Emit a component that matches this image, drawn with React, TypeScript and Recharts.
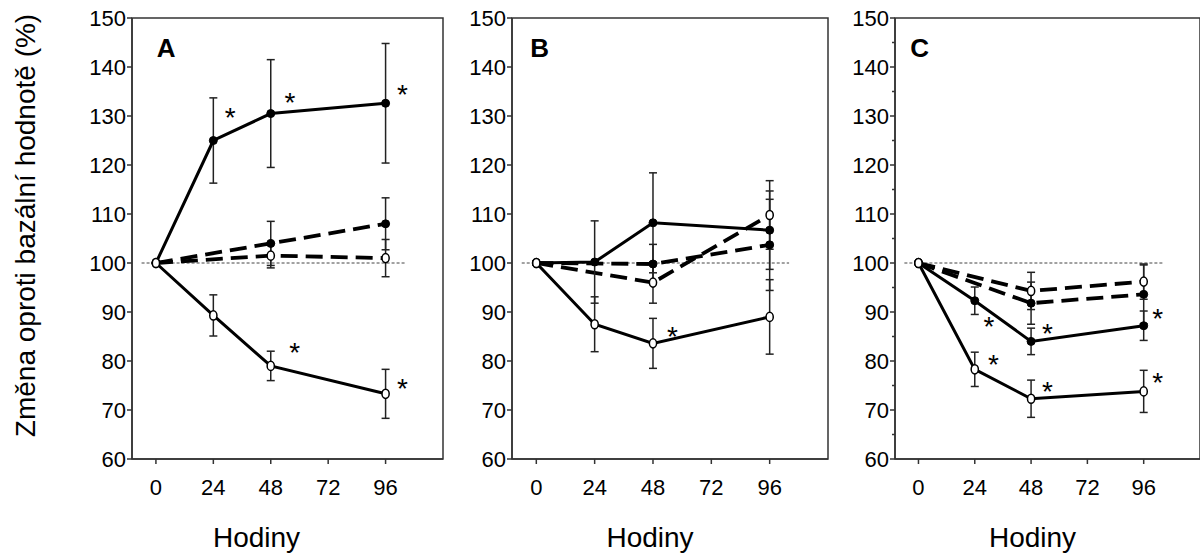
import {
  ComposedChart,
  Line,
  Scatter,
  XAxis,
  YAxis,
  ErrorBar,
  Label,
  ReferenceArea,
  ReferenceDot,
  ReferenceLine,
} from 'recharts';

type Pt = { h: number; v: number; e: number };
type Star = { h: number; v: number };

const hours = [0, 24, 48, 72, 96];
const yMajor = [60, 70, 80, 90, 100, 110, 120, 130, 140, 150];
const yWithMinor = [60, 65, 70, 75, 80, 85, 90, 95, 100, 105, 110, 115, 120, 125, 130, 135, 140, 145, 150];

const Y_TITLE = 'Změna oproti bazální hodnotě (%)';
const X_TITLE = 'Hodiny';

// A
const aFilledSolid: Pt[] = [
  { h: 0, v: 100, e: 0 },
  { h: 24, v: 125, e: 8.7 },
  { h: 48, v: 130.5, e: 11 },
  { h: 96, v: 132.6, e: 12.2 },
];
const aOpenSolid: Pt[] = [
  { h: 0, v: 100, e: 0 },
  { h: 24, v: 89.3, e: 4.2 },
  { h: 48, v: 79, e: 3 },
  { h: 96, v: 73.3, e: 5 },
];
const aFilledDash: Pt[] = [
  { h: 0, v: 100, e: 0 },
  { h: 48, v: 104, e: 4.5 },
  { h: 96, v: 108, e: 5.3 },
];
const aOpenDash: Pt[] = [
  { h: 0, v: 100, e: 0 },
  { h: 48, v: 101.5, e: 2.5 },
  { h: 96, v: 101, e: 3.8 },
];
const aStars: Star[] = [
  { h: 31, v: 131 },
  { h: 56, v: 134 },
  { h: 103, v: 135.7 },
  { h: 58, v: 83 },
  { h: 103, v: 75.7 },
];

// B
const bFilledSolid: Pt[] = [
  { h: 0, v: 100, e: 0 },
  { h: 24, v: 100.2, e: 8.4 },
  { h: 48, v: 108.2, e: 10.2 },
  { h: 96, v: 106.7, e: 8 },
];
const bOpenSolid: Pt[] = [
  { h: 0, v: 100, e: 0 },
  { h: 24, v: 87.5, e: 5.6 },
  { h: 48, v: 83.6, e: 5.1 },
  { h: 96, v: 89, e: 7.6 },
];
const bFilledDash: Pt[] = [
  { h: 0, v: 100, e: 0 },
  { h: 48, v: 99.8, e: 4 },
  { h: 96, v: 103.7, e: 9.3 },
];
const bOpenDash: Pt[] = [
  { h: 0, v: 100, e: 0 },
  { h: 48, v: 96, e: 4.2 },
  { h: 96, v: 109.8, e: 7 },
];
const bStars: Star[] = [{ h: 56, v: 86.3 }];

// C
const cFilledSolid: Pt[] = [
  { h: 0, v: 100, e: 0 },
  { h: 24, v: 92.3, e: 2.8 },
  { h: 48, v: 84, e: 2.7 },
  { h: 96, v: 87.2, e: 3 },
];
const cOpenSolid: Pt[] = [
  { h: 0, v: 100, e: 0 },
  { h: 24, v: 78.3, e: 3.5 },
  { h: 48, v: 72.3, e: 3.8 },
  { h: 96, v: 73.8, e: 4.3 },
];
const cFilledDash: Pt[] = [
  { h: 0, v: 100, e: 0 },
  { h: 48, v: 91.8, e: 4.3 },
  { h: 96, v: 93.6, e: 6 },
];
const cOpenDash: Pt[] = [
  { h: 0, v: 100, e: 0 },
  { h: 48, v: 94.3, e: 3.8 },
  { h: 96, v: 96.2, e: 3.6 },
];
const cStars: Star[] = [
  { h: 30, v: 88.3 },
  { h: 55, v: 87 },
  { h: 102, v: 90 },
  { h: 32, v: 80.6 },
  { h: 55, v: 75 },
  { h: 102, v: 77 },
];

type Series = { data: Pt[]; dashed: boolean; open: boolean };
type PanelCfg = {
  letter: string;
  letterH: number;
  left: number;
  marginLeft: number;
  plotWidth: number;
  titleDx: number;
  minor: boolean;
  yTitle: boolean;
  series: Series[];
  stars: Star[];
};

const panels: PanelCfg[] = [
  {
    letter: 'A', letterH: 4.3, left: 0, marginLeft: 72, plotWidth: 311, titleDx: -31, minor: false, yTitle: true,
    series: [
      { data: aFilledDash, dashed: true, open: false },
      { data: aOpenDash, dashed: true, open: true },
      { data: aFilledSolid, dashed: false, open: false },
      { data: aOpenSolid, dashed: false, open: true },
    ],
    stars: aStars,
  },
  {
    letter: 'B', letterH: 1.4, left: 450, marginLeft: 2, plotWidth: 316, titleDx: -20, minor: false, yTitle: false,
    series: [
      { data: bFilledDash, dashed: true, open: false },
      { data: bOpenDash, dashed: true, open: true },
      { data: bFilledSolid, dashed: false, open: false },
      { data: bOpenSolid, dashed: false, open: true },
    ],
    stars: bStars,
  },
  {
    letter: 'C', letterH: 0.5, left: 833, marginLeft: 2, plotWidth: 305, titleDx: -15, minor: true, yTitle: false,
    series: [
      { data: cFilledDash, dashed: true, open: false },
      { data: cOpenDash, dashed: true, open: true },
      { data: cFilledSolid, dashed: false, open: false },
      { data: cOpenSolid, dashed: false, open: true },
    ],
    stars: cStars,
  },
];

const AXIS = '#333';

const YTick = (props: any) => {
  const { x, y, payload } = props;
  const major = payload.value % 10 === 0;
  return (
    <g>
      <line x1={x - (major ? 5 : 3)} x2={x} y1={y} y2={y} stroke={AXIS} strokeWidth={1.5} />
      {major && (
        <text x={x - 6} y={y} dy="0.36em" textAnchor="end" fontSize={22} fill="#000">
          {payload.value}
        </text>
      )}
    </g>
  );
};

// dot for open markers: slightly taller than wide, as in the figure
const OpenDot = (props: any) => {
  if (props.cx == null || props.cy == null) return null;
  return <ellipse cx={props.cx} cy={props.cy} rx={3.6} ry={4.6} fill="#fff" stroke="#000" strokeWidth={1.5} />;
};

const StarShape = (props: any) => (
  <text x={props.cx} y={props.cy} dy="0.57em" textAnchor="middle" fontSize={28} fill="#000">
    *
  </text>
);

function Panel({ p }: { p: PanelCfg }) {
  const width = p.marginLeft + 60 + p.plotWidth + 5;
  return (
    <div style={{ position: 'absolute', left: p.left, top: 0 }}>
      <ComposedChart width={width} height={554} margin={{ top: 18, right: 5, bottom: 35, left: p.marginLeft }}>
        <XAxis
          type="number"
          dataKey="h"
          domain={[-10, 120]}
          ticks={hours}
          interval={0}
          allowDataOverflow
          height={60}
          tickSize={5}
          tickMargin={15}
          tick={{ fontSize: 22, fill: '#000' }}
          axisLine={{ stroke: AXIS, strokeWidth: 1.5 }}
          tickLine={{ stroke: AXIS, strokeWidth: 1.5 }}
        >
          <Label
            content={(lp: any) => {
              const vb = lp.viewBox;
              return (
                <text x={vb.x + vb.width / 2 + p.titleDx} y={vb.y + 88} textAnchor="middle" fontSize={28} fill="#000">
                  {X_TITLE}
                </text>
              );
            }}
          />
        </XAxis>
        <YAxis
          type="number"
          dataKey="v"
          domain={[60, 150]}
          ticks={p.minor ? yWithMinor : yMajor}
          interval={0}
          allowDataOverflow
          width={60}
          tickSize={0}
          tickMargin={0}
          tickLine={false}
          tick={<YTick />}
          axisLine={{ stroke: AXIS, strokeWidth: 1.5 }}
        >
          {p.yTitle && (
            <Label
              content={(lp: any) => {
                const vb = lp.viewBox;
                const x = vb.x - 37;
                const y = vb.y + vb.height / 2 - 13;
                return (
                  <text x={x} y={y} transform={`rotate(-90 ${x} ${y})`} textAnchor="middle" fontSize={28} fill="#000">
                    {Y_TITLE}
                  </text>
                );
              }}
            />
          )}
        </YAxis>
        <ReferenceArea x1={-10} x2={120} y1={60} y2={150} fill="none" stroke={AXIS} strokeWidth={1.5} />
        <ReferenceLine
          segment={[{ x: -6, y: 100 }, { x: 104, y: 100 }]}
          stroke="#444"
          strokeDasharray="3 2"
          strokeWidth={1}
        />
        <ReferenceDot
          x={p.letterH}
          y={144}
          r={0}
          fill="none"
          stroke="none"
          label={{ value: p.letter, position: 'center', fontSize: 26, fontWeight: 700, fill: '#000' }}
        />
        {p.series.map((s, i) => (
          <Line
            key={i}
            data={s.data}
            dataKey="v"
            stroke="#000"
            strokeWidth={s.dashed ? 3.8 : 3}
            strokeDasharray={s.dashed ? '17 8' : undefined}
            dot={
              s.open
                ? <OpenDot />
                : { r: 4, fill: '#000', stroke: '#000', strokeWidth: 1, strokeDasharray: 'none' }
            }
            activeDot={false}
            isAnimationActive={false}
          >
            <ErrorBar dataKey="e" width={4} stroke="#222" strokeWidth={1.5} direction="y" />
          </Line>
        ))}
        <Scatter data={p.stars} dataKey="v" shape={<StarShape />} isAnimationActive={false} />
      </ComposedChart>
    </div>
  );
}

export default function App() {
  return (
    <div
      style={{
        position: 'absolute',
        left: 0,
        top: 0,
        width: 1200,
        height: 554,
        overflow: 'hidden',
        background: '#fff',
        fontFamily: '"Liberation Sans", Arial, sans-serif',
      }}
    >
      {panels.map((p) => (
        <Panel key={p.letter} p={p} />
      ))}
    </div>
  );
}
